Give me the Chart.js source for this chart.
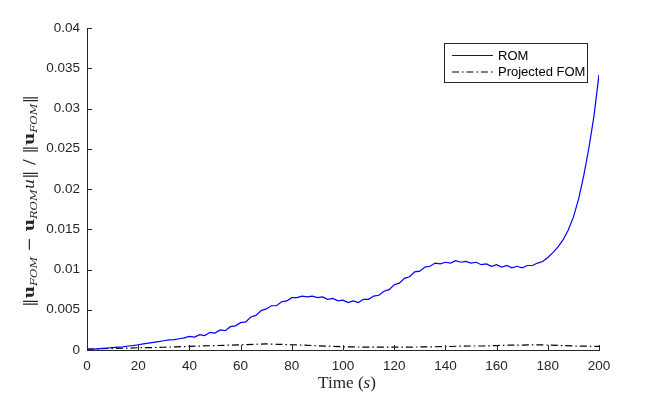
<!DOCTYPE html>
<html>
<head>
<meta charset="utf-8">
<script src="https://cdn.jsdelivr.net/npm/chart.js@4/dist/chart.umd.min.js"></script>
<style>
  html, body { margin: 0; padding: 0; background: #fff; }
  #wrap { width: 664px; height: 394px; }
</style>
</head>
<body>
<div id="wrap"><canvas id="chart" width="664" height="394"></canvas></div>
<script>
// relative error of the ROM vs FOM, sampled every 2 s
const romTime = [];
for (let t = 0; t <= 200; t += 2) romTime.push(t);
const romError = [
  0.0001, 0.0001, 0.00015, 0.0002, 0.00025, 0.0003, 0.00035, 0.0004, 0.0005, 0.00055,
  0.00065, 0.00075, 0.00085, 0.00095, 0.00105, 0.00115, 0.00125, 0.0013, 0.0014, 0.0015,
  0.0017, 0.0016, 0.0019, 0.0018, 0.0022, 0.0021, 0.0025, 0.0024, 0.0029, 0.0030,
  0.0034, 0.0035, 0.0041, 0.0043, 0.0049, 0.0051, 0.0055, 0.0055, 0.0060, 0.0061,
  0.0065, 0.0065, 0.0067, 0.0066, 0.0067, 0.0065, 0.0066, 0.0063, 0.0064, 0.0061,
  0.0062, 0.0059, 0.0061, 0.0059, 0.0063, 0.0063, 0.0067, 0.0068, 0.0073, 0.0075,
  0.0081, 0.0083, 0.0089, 0.0091, 0.0097, 0.0098, 0.0103, 0.0104, 0.0108, 0.0107,
  0.0109, 0.0108, 0.0111, 0.0109, 0.0110, 0.0108, 0.0109, 0.0106, 0.0107, 0.0104,
  0.0106, 0.0103, 0.0105, 0.0102, 0.0104, 0.0102, 0.0105, 0.0105, 0.0108, 0.0110,
  0.0115, 0.0121, 0.0128, 0.0137, 0.0149, 0.0165, 0.0187, 0.0216, 0.0250, 0.0290,
  0.0342
];

// projected FOM error, every 5 s
const fomTime = [];
for (let t = 0; t <= 200; t += 5) fomTime.push(t);
const fomError = [
  0.0001, 0.00015, 0.0002, 0.00022, 0.00028, 0.0003, 0.00034, 0.0004, 0.00045, 0.0005,
  0.00055, 0.0006, 0.00065, 0.0007, 0.00075, 0.0007, 0.00065, 0.0006, 0.00052, 0.00047,
  0.0004, 0.00038, 0.00035, 0.00035, 0.00035, 0.00035, 0.00038, 0.0004, 0.00042, 0.00047,
  0.0005, 0.0005, 0.00055, 0.0006, 0.0006, 0.00065, 0.00062, 0.00055, 0.0005, 0.00047,
  0.00045
];

const xTicks = [0, 20, 40, 60, 80, 100, 120, 140, 160, 180, 200];
const yTicks = [0, 0.005, 0.01, 0.015, 0.02, 0.025, 0.03, 0.035, 0.04];

const axisColor = "#262626";
const sans = "'Liberation Sans', Arial, Helvetica, sans-serif";
const serif = "'DejaVu Serif', 'Liberation Serif', serif";

// MATLAB-like inward ticks
const inwardTicks = {
  id: "inwardTicks",
  afterDraw(chart) {
    const { ctx, chartArea: a, scales: { x, y } } = chart;
    ctx.save();
    ctx.strokeStyle = axisColor;
    ctx.lineWidth = 1;
    ctx.beginPath();
    xTicks.forEach(v => {
      const px = Math.round(x.getPixelForValue(v)) + 0.5;
      ctx.moveTo(px, a.bottom);
      ctx.lineTo(px, a.bottom - 5);
    });
    yTicks.forEach(v => {
      const py = Math.round(y.getPixelForValue(v)) + 0.5;
      ctx.moveTo(a.left, py);
      ctx.lineTo(a.left + 5, py);
    });
    ctx.stroke();
    ctx.restore();
  }
};

// draw a run of [text, font, dy] pieces starting at x0
function drawRun(ctx, parts, x0, y0) {
  let x = x0;
  parts.forEach(([txt, font, dy]) => {
    ctx.font = font;
    ctx.fillText(txt, x, y0 + (dy || 0));
    x += ctx.measureText(txt).width;
  });
}
function runWidth(ctx, parts) {
  return parts.reduce((w, [txt, font]) => { ctx.font = font; return w + ctx.measureText(txt).width; }, 0);
}

const axisTitles = {
  id: "axisTitles",
  afterDraw(chart) {
    const { ctx, chartArea: a } = chart;
    ctx.save();
    ctx.fillStyle = "#262626";
    ctx.textBaseline = "alphabetic";

    const xrm = `16px 'Liberation Serif', serif`;
    const xit = `italic 16px 'Liberation Serif', serif`;
    const xParts = [["Time (", xrm], ["s", xit], [")", xrm]];
    const xw = runWidth(ctx, xParts);
    ctx.save();
    ctx.translate((a.left + a.right) / 2 + 4, 388);
    ctx.scale(58 / xw, 1);
    drawRun(ctx, xParts, -xw / 2, 0);
    ctx.restore();

    const rm = `15px ${serif}`;
    const it = `italic 14px ${serif}`;
    const bd = `bold 15px ${serif}`;
    const sub = `italic 10px ${serif}`;
    const yParts = [
      ["\u2016", rm], ["u", bd], ["FOM", sub, 3], [" \u2212 ", rm], ["u", bd], ["ROM", sub, 3],
      ["u", it], ["\u2016 / \u2016", rm], ["u", bd], ["FOM", sub, 3], ["\u2016", rm]
    ];
    const yw = runWidth(ctx, yParts);
    ctx.translate(29, 201);
    ctx.rotate(-Math.PI / 2);
    ctx.scale(212 / yw, 1);
    drawRun(ctx, yParts, -yw / 2, 5);
    ctx.restore();
  }
};

const boxLegend = {
  id: "boxLegend",
  afterDraw(chart) {
    const { ctx, chartArea: a } = chart;
    const right = a.right - 12, top = 43, w = 143, h = 39;
    const left = right - w;
    ctx.save();
    ctx.fillStyle = "#fff";
    ctx.fillRect(left, top, w, h);
    ctx.strokeStyle = axisColor;
    ctx.lineWidth = 1;
    ctx.strokeRect(left + 0.5, top + 0.5, w, h);
    ctx.font = `13px ${sans}`;
    ctx.textBaseline = "middle";
    ctx.fillStyle = "#000";
    chart.data.datasets.forEach((ds, i) => {
      const yy = top + 12.5 + i * 16.5;
      ctx.beginPath();
      ctx.strokeStyle = ds.borderColor;
      ctx.lineWidth = ds.borderWidth;
      ctx.setLineDash(ds.borderDash || []);
      ctx.moveTo(left + 8, yy);
      ctx.lineTo(left + 49, yy);
      ctx.stroke();
      ctx.setLineDash([]);
      ctx.fillText(ds.label, left + 54, yy + 0.5);
    });
    ctx.restore();
  }
};

new Chart(document.getElementById("chart"), {
  type: "line",
  data: {
    datasets: [
      {
        label: "ROM",
        data: romTime.map((t, i) => ({ x: t, y: romError[i] })),
        borderColor: "#0000ff",
        borderWidth: 1.2,
        pointRadius: 0,
        tension: 0,
      },
      {
        label: "Projected FOM",
        data: fomTime.map((t, i) => ({ x: t, y: fomError[i] })),
        borderColor: "#000000",
        borderWidth: 1.2,
        borderDash: [7, 3, 1.5, 3],
        pointRadius: 0,
        tension: 0,
      },
    ],
  },
  options: {
    responsive: false,
    animation: false,
    layout: { padding: { left: 0, top: 28, right: 65, bottom: 0 } },
    plugins: { legend: { display: false }, tooltip: { enabled: false } },
    scales: {
      x: {
        type: "linear",
        min: 0, max: 200,
        afterFit: s => { s.height = 44; },
        afterBuildTicks: s => { s.ticks = xTicks.map(v => ({ value: v })); },
        grid: { drawOnChartArea: false, drawTicks: false },
        border: { color: axisColor, width: 1 },
        ticks: { color: "#262626", font: { family: sans, size: 13.5 }, padding: 8, maxRotation: 0 },
      },
      y: {
        min: 0, max: 0.04,
        afterFit: s => { s.width = 87; },
        afterBuildTicks: s => { s.ticks = yTicks.map(v => ({ value: v })); },
        grid: { drawOnChartArea: false, drawTicks: false },
        border: { color: axisColor, width: 1 },
        ticks: {
          color: "#262626", font: { family: sans, size: 13.5 }, padding: 7,
          callback: v => String(+v.toFixed(3)),
        },
      },
    },
  },
  plugins: [inwardTicks, axisTitles, boxLegend],
});
</script>
</body>
</html>
